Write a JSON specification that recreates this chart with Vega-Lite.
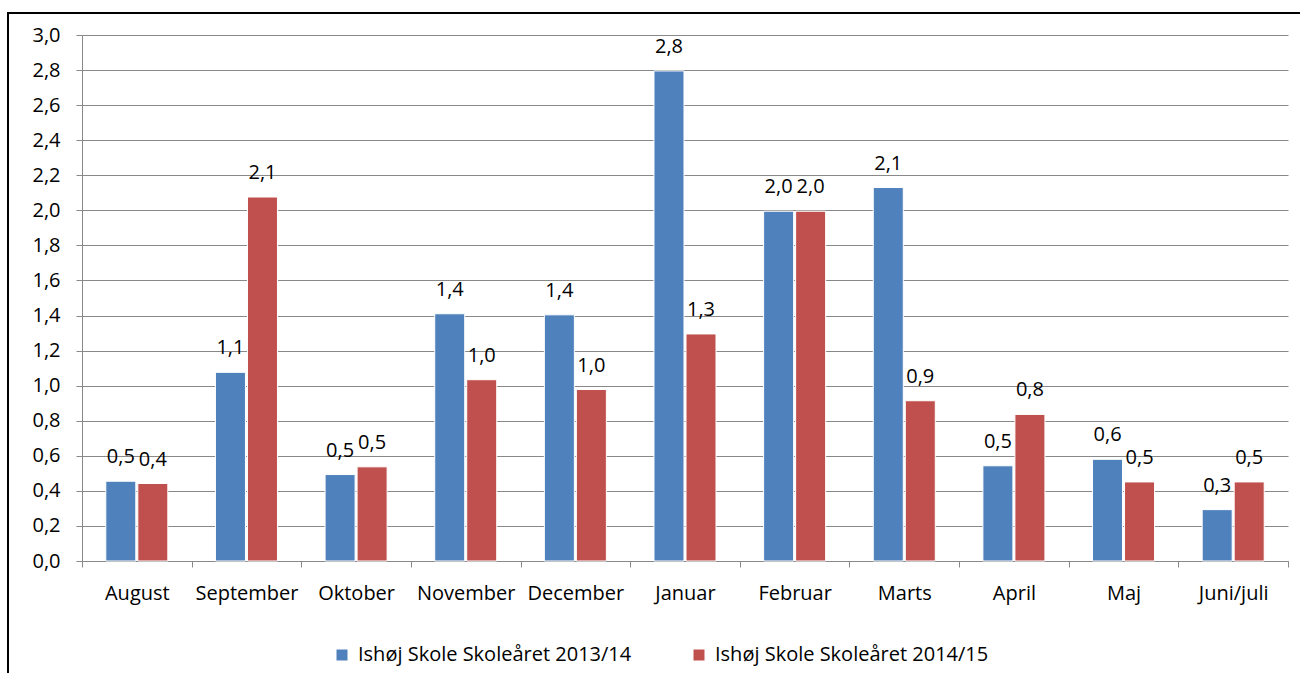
{
  "$schema": "https://vega.github.io/schema/vega-lite/v6.json",
  "width": 1206,
  "height": 526,
  "autosize": {"type": "none"},
  "padding": {"left": 82, "top": 35, "right": 12, "bottom": 112},
  "background": "white",
  "config": {
    "font": "Open Sans",
    "view": {"stroke": null},
    "locale": {"number": {"decimal": ",", "thousands": ".", "grouping": [3], "currency": ["", " kr."]}},
    "axis": {"labelFont": "Open Sans", "labelFontSize": 20, "labelColor": "#000000", "tickColor": "#898989", "tickWidth": 1, "domainColor": "#898989", "domainWidth": 1, "gridColor": "#898989", "gridWidth": 1, "gridOpacity": 1, "labelOverlap": false},
    "legend": {"labelFont": "Open Sans", "labelFontSize": 20, "labelColor": "#000000", "labelLimit": 600}
  },
  "datasets": {
    "bars": [
      {"month": "August", "series": "Ishøj Skole Skoleåret 2013/14", "v": 0.455},
      {"month": "August", "series": "Ishøj Skole Skoleåret 2014/15", "v": 0.442},
      {"month": "September", "series": "Ishøj Skole Skoleåret 2013/14", "v": 1.076},
      {"month": "September", "series": "Ishøj Skole Skoleåret 2014/15", "v": 2.076},
      {"month": "Oktober", "series": "Ishøj Skole Skoleåret 2013/14", "v": 0.493},
      {"month": "Oktober", "series": "Ishøj Skole Skoleåret 2014/15", "v": 0.537},
      {"month": "November", "series": "Ishøj Skole Skoleåret 2013/14", "v": 1.41},
      {"month": "November", "series": "Ishøj Skole Skoleåret 2014/15", "v": 1.034},
      {"month": "December", "series": "Ishøj Skole Skoleåret 2013/14", "v": 1.404},
      {"month": "December", "series": "Ishøj Skole Skoleåret 2014/15", "v": 0.978},
      {"month": "Januar", "series": "Ishøj Skole Skoleåret 2013/14", "v": 2.795},
      {"month": "Januar", "series": "Ishøj Skole Skoleåret 2014/15", "v": 1.295},
      {"month": "Februar", "series": "Ishøj Skole Skoleåret 2013/14", "v": 1.995},
      {"month": "Februar", "series": "Ishøj Skole Skoleåret 2014/15", "v": 1.995},
      {"month": "Marts", "series": "Ishøj Skole Skoleåret 2013/14", "v": 2.13},
      {"month": "Marts", "series": "Ishøj Skole Skoleåret 2014/15", "v": 0.914},
      {"month": "April", "series": "Ishøj Skole Skoleåret 2013/14", "v": 0.543},
      {"month": "April", "series": "Ishøj Skole Skoleåret 2014/15", "v": 0.836},
      {"month": "Maj", "series": "Ishøj Skole Skoleåret 2013/14", "v": 0.58},
      {"month": "Maj", "series": "Ishøj Skole Skoleåret 2014/15", "v": 0.451},
      {"month": "Juni/juli", "series": "Ishøj Skole Skoleåret 2013/14", "v": 0.293},
      {"month": "Juni/juli", "series": "Ishøj Skole Skoleåret 2014/15", "v": 0.451}
    ],
    "one": [{"k": 1}]
  },
  "layer": [
    {
      "data": {"name": "bars"},
      "mark": {"type": "bar", "stroke": "white", "strokeWidth": 1},
      "encoding": {
        "x": {"field": "month", "type": "nominal", "sort": null,
              "scale": {"domain": ["August", "September", "Oktober", "November", "December", "Januar", "Februar", "Marts", "April", "Maj", "Juni/juli"], "paddingInner": 0, "paddingOuter": 0},
              "axis": {"title": null, "labelAngle": 0, "domain": true, "tickBand": "extent", "tickSize": 6, "labelPadding": 16, "grid": false, "labelOverlap": false}},
        "xOffset": {"field": "series", "type": "nominal", "scale": {"paddingInner": 0.0625, "paddingOuter": 0.744}},
        "y": {"field": "v", "type": "quantitative",
              "scale": {"domain": [0, 3], "nice": false},
              "axis": {"title": null, "values": [0, 0.2, 0.4, 0.6, 0.8, 1.0, 1.2, 1.4, 1.6, 1.8, 2.0, 2.2, 2.4, 2.6, 2.8, 3.0], "format": ".1f", "grid": true, "domain": true, "tickSize": 6, "labelPadding": 16, "labelOverlap": false, "labelBound": false, "labelFlush": false}},
        "color": {"field": "series", "type": "nominal",
                  "scale": {"domain": ["Ishøj Skole Skoleåret 2013/14", "Ishøj Skole Skoleåret 2014/15"], "range": ["#4F81BD", "#C0504D"]},
                  "legend": {"title": null, "orient": "none", "direction": "horizontal", "legendX": 250, "legendY": 610, "padding": 0, "symbolType": "square", "symbolSize": 121, "symbolStrokeWidth": 0, "labelOffset": 6, "columnPadding": 57}}
      }
    },
    {
      "data": {"name": "bars"},
      "mark": {"type": "text", "baseline": "alphabetic", "dy": -18, "fontSize": 20, "font": "Open Sans", "color": "#000000"},
      "encoding": {
        "x": {"field": "month", "type": "nominal", "sort": null,
              "axis": {"title": null, "labelAngle": 0, "domain": true, "tickBand": "extent", "tickSize": 6, "labelPadding": 16, "grid": false, "labelOverlap": false}},
        "xOffset": {"field": "series", "type": "nominal"},
        "y": {"field": "v", "type": "quantitative",
              "axis": {"title": null, "values": [0, 0.2, 0.4, 0.6, 0.8, 1.0, 1.2, 1.4, 1.6, 1.8, 2.0, 2.2, 2.4, 2.6, 2.8, 3.0], "format": ".1f", "grid": true, "domain": true, "tickSize": 6, "labelPadding": 16, "labelOverlap": false, "labelBound": false, "labelFlush": false}},
        "text": {"field": "v", "type": "quantitative", "format": ".1f"}
      }
    },
    {
      "data": {"name": "one"},
      "mark": {"type": "rect", "fill": "white", "fillOpacity": 0, "stroke": "black", "strokeWidth": 2},
      "encoding": {
        "x": {"datum": "August", "type": "nominal", "bandPosition": -0.675,
              "axis": {"title": null, "labelAngle": 0, "domain": true, "tickBand": "extent", "tickSize": 6, "labelPadding": 16, "grid": false, "labelOverlap": false}},
        "x2": {"datum": "Juni/juli", "bandPosition": 1.5},
        "y": {"datum": 3.1255, "type": "quantitative",
              "axis": {"title": null, "values": [0, 0.2, 0.4, 0.6, 0.8, 1.0, 1.2, 1.4, 1.6, 1.8, 2.0, 2.2, 2.4, 2.6, 2.8, 3.0], "format": ".1f", "grid": true, "domain": true, "tickSize": 6, "labelPadding": 16, "labelOverlap": false, "labelBound": false, "labelFlush": false}},
        "y2": {"datum": -1.5}
      }
    }
  ]
}
